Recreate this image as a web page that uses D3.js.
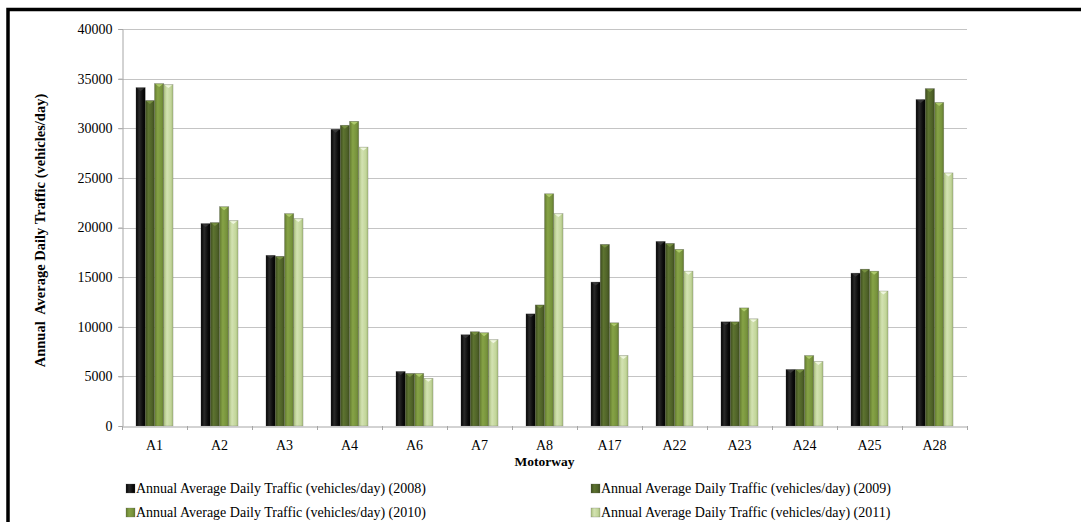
<!DOCTYPE html>
<html>
<head>
<meta charset="utf-8">
<script src="https://cdn.jsdelivr.net/npm/d3@7"></script>
<style>
  html, body { margin: 0; padding: 0; background: #fff; }
  svg { display: block; font-family: "Liberation Serif", "Times New Roman", serif; }
</style>
</head>
<body>
<svg id="chart" width="1081" height="522"></svg>
<script>
// Motorway traffic, annual average daily traffic by year
const motorways = ["A1", "A2", "A3", "A4", "A6", "A7", "A8", "A17", "A22", "A23", "A24", "A25", "A28"];
const years = ["2008", "2009", "2010", "2011"];
const aadt2008 = [34100, 20400, 17200, 29900, 5500, 9200, 11300, 14500, 18600, 10500, 5700, 15400, 32900];
const aadt2009 = [32800, 20500, 17100, 30300, 5300, 9500, 12200, 18300, 18400, 10500, 5700, 15800, 34000];
const aadt2010 = [34500, 22100, 21400, 30700, 5300, 9400, 23400, 10400, 17800, 11900, 7100, 15600, 32600];
const aadt2011 = [34400, 20700, 20900, 28100, 4800, 8700, 21400, 7100, 15600, 10800, 6500, 13600, 25500];
const yTicks = [0, 5000, 10000, 15000, 20000, 25000, 30000, 35000, 40000];
const seriesLabel = y => `Annual Average Daily Traffic (vehicles/day) (${y})`;

const seriesValues = [aadt2008, aadt2009, aadt2010, aadt2011];
// base colour, edge shade, highlight shade, bevel colour
const palette = [
  { base: "#0b0b0b", edge: "#000000", light: "#2a2a2a", bevel: "#3a3a3a" },
  { base: "#4f6228", edge: "#3c4b1d", light: "#5d7330", bevel: "#7a9444" },
  { base: "#77933c", edge: "#62792f", light: "#86a346", bevel: "#b3cf70" },
  { base: "#c3d69b", edge: "#a9bf7d", light: "#d3e2b2", bevel: "#f3f8e6" }
];
const serif = "'Liberation Serif', 'Times New Roman', serif";

const svg = d3.select("#chart");
const margin = { left: 122, right: 967, top: 29, bottom: 426 };

// outer frame (thick black border at top and left)
svg.append("rect")
  .attr("x", 8).attr("y", 9.5)
  .attr("width", 1200).attr("height", 600)
  .attr("fill", "none").attr("stroke", "#000").attr("stroke-width", 3.5);

const defs = svg.append("defs");
palette.forEach((p, i) => {
  const g = defs.append("linearGradient").attr("id", "bar" + i)
    .attr("x1", "0%").attr("x2", "100%").attr("y1", "0%").attr("y2", "0%");
  g.append("stop").attr("offset", "0%").attr("stop-color", p.edge);
  g.append("stop").attr("offset", "35%").attr("stop-color", p.light);
  g.append("stop").attr("offset", "75%").attr("stop-color", p.base);
  g.append("stop").attr("offset", "100%").attr("stop-color", p.edge);
});

const x = d3.scaleBand().domain(motorways)
  .range([margin.left, margin.right])
  .paddingInner(0.43).paddingOuter(0.215);
const xs = d3.scaleBand().domain(years).range([0, x.bandwidth()]).padding(0);
const y = d3.scaleLinear().domain([0, 40000]).range([margin.bottom, margin.top]);

// gridlines
svg.append("g").selectAll("line").data(yTicks.filter(t => t > 0)).join("line")
  .attr("x1", margin.left - 4).attr("x2", margin.right)
  .attr("y1", d => Math.round(y(d)) + 0.5).attr("y2", d => Math.round(y(d)) + 0.5)
  .attr("stroke", "#c4c4c4").attr("stroke-width", 1);

// y axis
const yAxis = svg.append("g")
  .attr("transform", `translate(${margin.left + 0.5},0)`)
  .call(d3.axisLeft(y).tickValues(yTicks).tickSize(4).tickPadding(6).tickFormat(d3.format("d")));
yAxis.attr("font-family", serif);
yAxis.select(".domain").attr("stroke", "#a6a6a6");
yAxis.selectAll(".tick line").attr("stroke", "#a6a6a6");
yAxis.selectAll("text").attr("font-size", 14).attr("fill", "#000");

// bars
const groups = svg.append("g").selectAll("g").data(motorways).join("g")
  .attr("transform", d => `translate(${x(d)},0)`);

groups.each(function (m, mi) {
  const g = d3.select(this);
  years.forEach((yr, si) => {
    const v = seriesValues[si][mi];
    const bx = xs(yr), bw = xs.bandwidth();
    const top = y(v), h = y(0) - y(v);
    g.append("rect")
      .attr("x", bx).attr("y", top).attr("width", bw).attr("height", h)
      .attr("fill", `url(#bar${si})`)
      .attr("stroke", "rgba(90,90,90,0.45)").attr("stroke-width", 0.6);
    // small bevel at the top of each bar
    g.append("path")
      .attr("d", `M${bx + 1},${top + 0.6} L${bx + bw - 1},${top + 0.6} L${bx + bw / 2},${top + 3.5} Z`)
      .attr("fill", palette[si].bevel).attr("opacity", 0.9);
  });
});

// x axis
const xAxis = svg.append("g")
  .attr("transform", `translate(0,${margin.bottom + 0.5})`)
  .call(d3.axisBottom(x).tickSize(0).tickPadding(14));
xAxis.attr("font-family", serif);
xAxis.select(".domain").attr("stroke", "#a6a6a6");
xAxis.selectAll("text").attr("font-size", 14).attr("fill", "#000");
// category separators below the axis
svg.append("g").selectAll("line")
  .data(d3.range(motorways.length + 1))
  .join("line")
  .attr("x1", i => Math.round(margin.left + i * x.step()) + 0.5)
  .attr("x2", i => Math.round(margin.left + i * x.step()) + 0.5)
  .attr("y1", margin.bottom).attr("y2", margin.bottom + 4)
  .attr("stroke", "#a6a6a6");

// axis titles
svg.append("text")
  .attr("x", (margin.left + margin.right) / 2).attr("y", 466)
  .attr("text-anchor", "middle").attr("font-weight", "bold").attr("font-size", 13.5)
  .text("Motorway");
svg.append("text")
  .attr("transform", `translate(45,${(margin.top + margin.bottom) / 2 + 3}) rotate(-90)`)
  .attr("text-anchor", "middle").attr("font-weight", "bold").attr("font-size", 14.5)
  .attr("xml:space", "preserve")
  .text("Annual  Average Daily Traffic (vehicles/day)");

// legend
const legendPos = [[126, 493], [591, 493], [126, 517], [591, 517]];
const legend = svg.append("g").selectAll("g").data(years).join("g")
  .attr("transform", (d, i) => `translate(${legendPos[i][0]},${legendPos[i][1]})`);
legend.append("rect")
  .attr("x", 0).attr("y", -9).attr("width", 9).attr("height", 9)
  .attr("fill", (d, i) => `url(#bar${i})`)
  .attr("stroke", "rgba(90,90,90,0.5)").attr("stroke-width", 0.5);
legend.append("text")
  .attr("x", 10).attr("y", 0).attr("font-size", 14)
  .text(d => seriesLabel(d));
</script>
</body>
</html>
